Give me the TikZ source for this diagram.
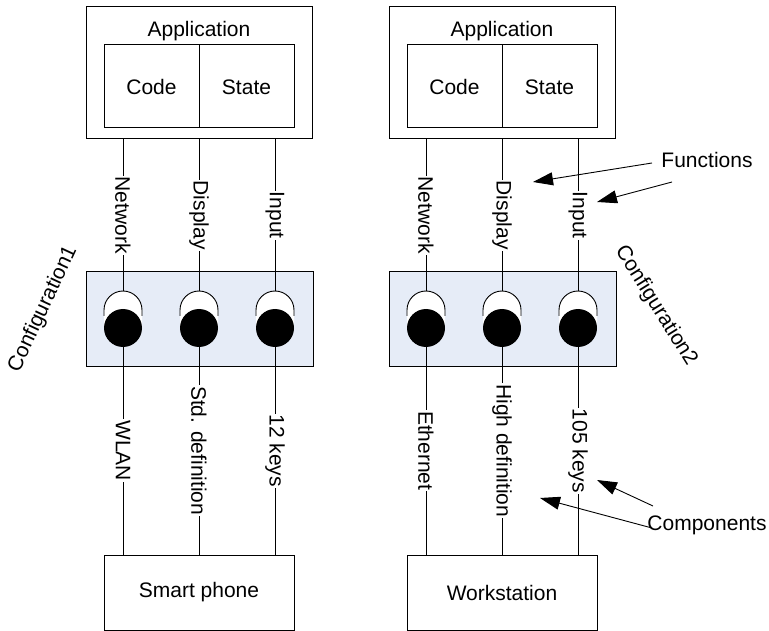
\documentclass[tikz,border=0pt]{standalone}
\usepackage{fontspec}
\setmainfont{Liberation Sans}
\usetikzlibrary{arrows.meta}

\definecolor{cfgfill}{HTML}{E6ECF7}

\begin{document}
\begin{tikzpicture}[x=1pt,y=-1pt,
  font=\fontsize{21}{25}\selectfont,
  box/.style={draw,line width=1pt,inner sep=0pt},
  cfgbox/.style={draw,line width=1pt,fill=cfgfill,minimum width=227pt,minimum height=94pt,inner sep=0pt},
  wire/.style={line width=0.9pt},
  wirelabel/.style={fill=white,rotate=-90,inner sep=1pt},
  callout/.style={line width=0.9pt,-{Triangle[length=20pt,width=13pt]}}]
\useasboundingbox (0,0) rectangle (769,631);

% ---------- one configuration column ----------
% #1 prefix, #2 centre x
\newcommand\confcolumn[2]{%
  % application box with code / state parts
  \node[box,minimum width=226pt,minimum height=132pt] (#1app) at (#2,73) {};
  \node[anchor=base] (#1apptxt) at (#2,37) {Application};
  \node[box,minimum width=95pt,minimum height=83pt] (#1code) at (#2-47.5,86.5) {};
  \node[box,minimum width=95pt,minimum height=83pt] (#1state) at (#2+47.5,86.5) {};
  \node[anchor=base] at ([yshift=-8pt]#1code.center) {Code};
  \node[anchor=base] at ([yshift=-8pt]#1state.center) {State};
  % configuration panel
  \node[cfgbox] (#1cfg) at (#2+0.5,319) {};
  % sockets: white open cup above a black ball
  \foreach \k/\dx in {a/-76,b/0,c/76}{%
    \coordinate (#1top\k) at (#2+\dx,291);
    \coordinate (#1bot\k) at (#2+\dx,347);
    \fill[white] (#2+\dx-19,328) -- (#2+\dx-19,310) arc[start angle=180,end angle=360,radius=19] -- (#2+\dx+19,328) -- cycle;
    \draw[line width=0.9pt] (#2+\dx-19,316) -- (#2+\dx-19,310) arc[start angle=180,end angle=360,radius=19] -- (#2+\dx+19,316);
    \fill[black] (#2+\dx,328) circle[radius=19];
  }
  % device box
  \node[box,minimum width=190pt,minimum height=75pt] (#1dev) at (#2,592.5) {};
}

\confcolumn{L}{199}
\confcolumn{R}{502}

\node at (Ldev.center) {Smart phone};
\node at (Rdev.center) {Workstation};

% ---------- wire end points on the boxes ----------
\foreach \p in {L,R}{
  \foreach \k in {a,b,c}{
    \coordinate (\p up\k) at (\p top\k |- \p app.south);
    \coordinate (\p dn\k) at (\p bot\k |- \p dev.north);
  }
}
% ---------- function wires (application to socket) ----------
\draw[wire] (Lupa) -- node[wirelabel]{Network} (Ltopa);
\draw[wire] (Lupb) -- node[wirelabel]{Display} (Ltopb);
\draw[wire] (Lupc) -- node[wirelabel]{Input} (Ltopc);
\draw[wire] (Rupa) -- node[wirelabel]{Network} (Rtopa);
\draw[wire] (Rupb) -- node[wirelabel]{Display} (Rtopb);
\draw[wire] (Rupc) -- node[wirelabel]{Input} (Rtopc);

% ---------- component wires (socket to device) ----------
\draw[wire] (Lbota) -- node[wirelabel]{WLAN} (Ldna);
\draw[wire] (Lbotb) -- node[wirelabel]{Std. definition} (Ldnb);
\draw[wire] (Lbotc) -- node[wirelabel]{12 keys} (Ldnc);
\draw[wire] (Rbota) -- node[wirelabel]{Ethernet} (Rdna);
\draw[wire] (Rbotb) -- node[wirelabel]{High definition} (Rdnb);
\draw[wire] (Rbotc) -- node[wirelabel]{105 keys} (Rdnc);

% ---------- configuration captions ----------
\node[rotate=65] (cfgA) at (43,309) {Configuration1};
\node[rotate=-58] (cfgB) at (656,306) {Configuration2};

% ---------- callouts ----------
\node (fun) at (707,160) {Functions};
\coordinate (funA) at (652,163);
\coordinate (funB) at (672,182);
\coordinate (funTipA) at (533,182);
\coordinate (funTipB) at (597,202);
\draw[callout] (funA) -- (funTipA);
\draw[callout] (funB) -- (funTipB);

\node (comp) at (707,525) {Components};
\coordinate (compA) at (653,506);
\coordinate (compB) at (652,528);
\coordinate (compTipA) at (597,480);
\coordinate (compTipB) at (540,498);
\draw[callout] (compA) -- (compTipA);
\draw[callout] (compB) -- (compTipB);
\end{tikzpicture}
\end{document}
